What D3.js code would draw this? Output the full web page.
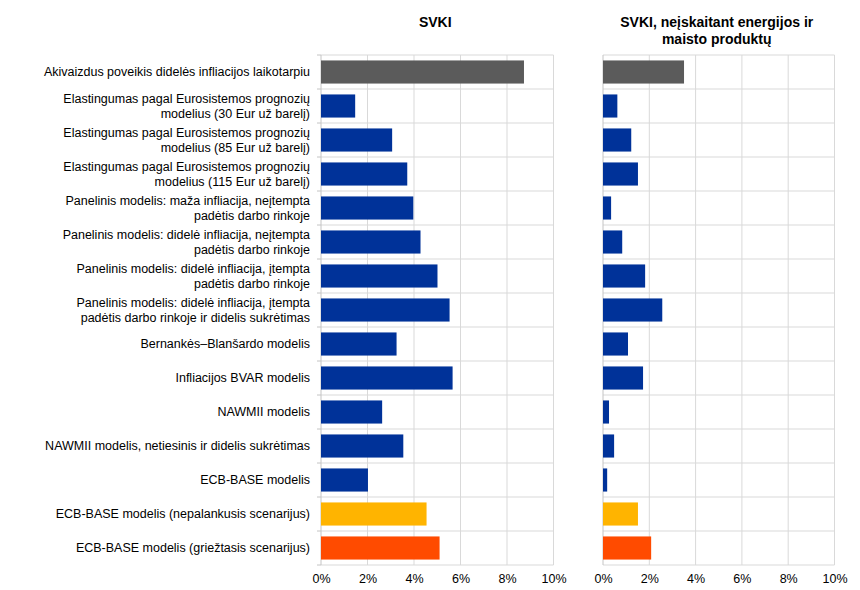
<!DOCTYPE html>
<html lang="lt">
  <head>
    <meta charset="utf-8">
    <title>SVKI</title>
    <style>
      body { margin: 0; background: #fff; }
      svg text { font-family: "Liberation Sans", Arial, sans-serif; fill: #000; }
    </style>
  </head>
  <body>
    <svg id="chart"></svg>

    <script src="https://d3js.org/d3.v7.min.js"></script>

    <script type="text/javascript">
      // kategorijos (eilutes skiriamos \n)
      const categories = [
        "Akivaizdus poveikis didelės infliacijos laikotarpiu",
        "Elastingumas pagal Eurosistemos prognozių\nmodelius (30 Eur už barelį)",
        "Elastingumas pagal Eurosistemos prognozių\nmodelius (85 Eur už barelį)",
        "Elastingumas pagal Eurosistemos prognozių\nmodelius (115 Eur už barelį)",
        "Panelinis modelis: maža infliacija, neįtempta\npadėtis darbo rinkoje",
        "Panelinis modelis: didelė infliacija, neįtempta\npadėtis darbo rinkoje",
        "Panelinis modelis: didelė infliacija, įtempta\npadėtis darbo rinkoje",
        "Panelinis modelis: didelė infliacija, įtempta\npadėtis darbo rinkoje ir didelis sukrėtimas",
        "Bernankės–Blanšardo modelis",
        "Infliacijos BVAR modelis",
        "NAWMII modelis",
        "NAWMII modelis, netiesinis ir didelis sukrėtimas",
        "ECB-BASE modelis",
        "ECB-BASE modelis (nepalankusis scenarijus)",
        "ECB-BASE modelis (griežtasis scenarijus)"
      ];
      const groups = ["faktas", "modelis", "modelis", "modelis", "modelis", "modelis", "modelis",
                      "modelis", "modelis", "modelis", "modelis", "modelis", "modelis",
                      "nepalankusis", "griežtasis"];

      const svkiValues = [8.73, 1.47, 3.06, 3.71, 3.97, 4.28, 5.01, 5.53, 3.25, 5.66, 2.63, 3.54, 2.02, 4.54, 5.10];
      const coreValues = [3.50, 0.62, 1.22, 1.51, 0.35, 0.83, 1.82, 2.56, 1.08, 1.73, 0.26, 0.48, 0.18, 1.51, 2.08];

      const panelTitles = [["SVKI"], ["SVKI, neįskaitant energijos ir", "maisto produktų"]];
      const xTicks = [0, 2, 4, 6, 8, 10];

      const width = 860, height = 590;
      const plotTop = 55, plotBottom = 565;

      const svg = d3.select('#chart')
        .attr('width', width)
        .attr('height', height);

      const color = d3.scaleOrdinal()
        .domain(["faktas", "modelis", "nepalankusis", "griežtasis"])
        .range(["#5b5b5b", "#003299", "#ffb400", "#ff4b00"]);

      const y = d3.scaleBand()
        .domain(categories)
        .range([plotTop, plotBottom])
        .paddingInner(0.32)
        .paddingOuter(0.16);

      const boundaries = d3.range(categories.length + 1).map(i => plotTop + i * y.step());

      const panels = [
        { values: svkiValues, x0: 321, x1: 553.5, title: panelTitles[0], labels: true },
        { values: coreValues, x0: 603, x1: 834.5, title: panelTitles[1], labels: false }
      ];

      panels.forEach(p => {
        const x = d3.scaleLinear().domain([0, 10]).range([p.x0, p.x1]);
        const g = svg.append('g');

        // tinklelis
        g.selectAll('line.hgrid').data(boundaries).join('line')
          .attr('class', 'hgrid')
          .attr('x1', p.x0).attr('x2', p.x1)
          .attr('y1', d => d).attr('y2', d => d)
          .attr('stroke', '#d9d9d9');

        g.selectAll('line.vgrid').data(xTicks.slice(1)).join('line')
          .attr('class', 'vgrid')
          .attr('x1', d => x(d)).attr('x2', d => x(d))
          .attr('y1', plotTop).attr('y2', plotBottom)
          .attr('stroke', '#d9d9d9');

        // kaire asis
        g.append('line')
          .attr('x1', p.x0).attr('x2', p.x0)
          .attr('y1', plotTop).attr('y2', plotBottom)
          .attr('stroke', '#c4c4c4');

        if (p.labels) {
          g.selectAll('line.ytick').data(boundaries).join('line')
            .attr('class', 'ytick')
            .attr('x1', p.x0 - 4).attr('x2', p.x0)
            .attr('y1', d => d).attr('y2', d => d)
            .attr('stroke', '#c4c4c4');
        }

        // stulpeliai
        g.selectAll('rect').data(p.values).join('rect')
          .attr('x', x(0))
          .attr('y', (d, i) => y(categories[i]))
          .attr('width', d => x(d) - x(0))
          .attr('height', y.bandwidth())
          .attr('fill', (d, i) => color(groups[i]));

        // x asis
        const axis = g.append('g')
          .attr('transform', `translate(0,${plotBottom})`)
          .call(d3.axisBottom(x).tickValues(xTicks).tickSize(0).tickPadding(9).tickFormat(d => d + '%'));
        axis.select('.domain').remove();
        axis.selectAll('text').style('font-size', '12.5px').style('font-family', '"Liberation Sans", Arial, sans-serif').attr('fill', '#000');

        // pavadinimas
        const cx = (p.x0 + p.x1) / 2 - 2;
        g.append('text')
          .attr('text-anchor', 'middle')
          .style('font-size', '14px')
          .style('font-weight', 'bold')
          .selectAll('tspan').data(p.title).join('tspan')
          .attr('x', cx)
          .attr('y', (d, i) => 27 + i * 17)
          .text(d => d);
      });

      // kategoriju pavadinimai
      const labels = svg.append('g');
      categories.forEach(c => {
        const lines = c.split('\n');
        const mid = y(c) + y.bandwidth() / 2;
        const lh = 14.5;
        labels.append('text')
          .attr('text-anchor', 'end')
          .style('font-size', '12.5px')
          .selectAll('tspan').data(lines).join('tspan')
          .attr('x', 310)
          .attr('y', (d, i) => mid + (i - (lines.length - 1) / 2) * lh + 4.4)
          .text(d => d);
      });
    </script>
  </body>
</html>
